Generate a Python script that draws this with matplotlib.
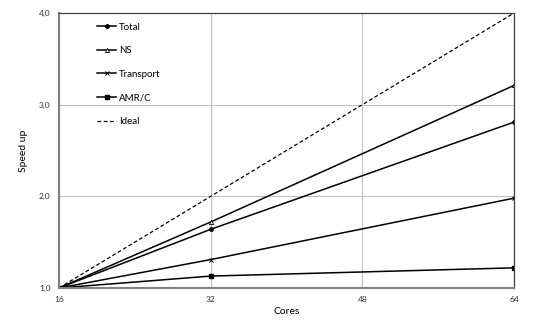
import matplotlib
matplotlib.use("Agg")
import matplotlib.pyplot as plt
from matplotlib.ticker import FuncFormatter

plt.rcParams['font.family'] = ['Lato', 'DejaVu Sans']

# data
cores = [16, 32, 64]
total = [1.0, 1.64, 2.81]
ns = [1.0, 1.72, 3.21]
transport = [1.0, 1.31, 1.98]
amr_c = [1.0, 1.13, 1.22]
ideal_cores = [16, 32, 48, 64]
ideal = [1.0, 2.0, 3.0, 4.0]

fig = plt.figure(figsize=(5.36, 3.22), dpi=100)
ax = fig.add_axes([0.110, 0.1056, 0.849, 0.854])

ax.plot(cores, total, color='black', lw=1.1, marker='o', ms=2.5, label='Total')
ax.plot(cores, ns, color='black', lw=1.1, marker='^', ms=3, mfc='white', mew=0.6, label='NS')
ax.plot(cores, transport, color='black', lw=1.1, marker='x', ms=3.5, mew=0.7, label='Transport')
ax.plot(cores, amr_c, color='black', lw=1.1, marker='s', ms=3, label='AMR/C')
ax.plot(ideal_cores, ideal, color='black', lw=0.9, ls=(0, (3, 2)), label='Ideal')

ax.set_xlim(16, 64)
ax.set_ylim(1.0, 4.0)
ax.set_xticks([16, 32, 48, 64])
ax.set_yticks([1.0, 2.0, 3.0, 4.0])
ax.yaxis.set_major_formatter(FuncFormatter(lambda v, p: f"{v:.1f}".replace('.', ',')))
ax.grid(True, color='#c0c0c0', lw=0.8)
ax.set_axisbelow(True)
ax.tick_params(length=0, labelsize=6, colors='#333333', pad=6)
for s in ['left', 'bottom']:
    ax.spines[s].set_color('#808080')
    ax.spines[s].set_linewidth(1.5)
for s in ['top', 'right']:
    ax.spines[s].set_color('#404040')
    ax.spines[s].set_linewidth(0.9)

ax.set_xlabel('Cores', fontsize=7.5, labelpad=3)
ax.set_ylabel('Speed up', fontsize=7.5, labelpad=8)

ax.legend(loc='upper left', bbox_to_anchor=(0.065, 0.997), frameon=False, fontsize=7,
          handlelength=1.9, handletextpad=0.3, labelspacing=1.5)

fig.savefig('out.png', dpi=100)
